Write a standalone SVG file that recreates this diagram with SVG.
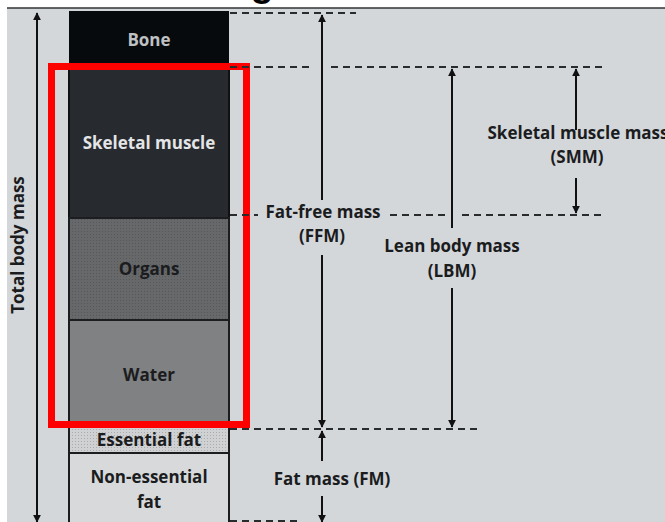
<svg xmlns="http://www.w3.org/2000/svg" width="665" height="522" viewBox="0 0 665 522">
<style>
.lbl{font-family:"Open Sans","Noto Sans",sans-serif;font-weight:bold;font-size:17px;fill:#1b1c1e;text-anchor:middle}
.dash{stroke:#2a2b2d;stroke-width:2;stroke-dasharray:7,5;fill:none}
.ar{stroke:#111;stroke-width:2;fill:none}
</style>
<defs>
<marker id="ah" viewBox="0 0 10 10" refX="9" refY="5" markerWidth="4" markerHeight="4" orient="auto-start-reverse" markerUnits="strokeWidth">
<path d="M0,0 L10,5 L0,10 z" fill="#111"/>
</marker>
<pattern id="dots" width="3" height="3" patternUnits="userSpaceOnUse">
<rect width="3" height="3" fill="#66686a"/>
<rect width="1" height="1" fill="#55575a"/>
</pattern>
<pattern id="ldots" width="3" height="3" patternUnits="userSpaceOnUse">
<rect width="3" height="3" fill="#cfd1d3"/>
<rect width="1" height="1" fill="#a9abad"/>
</pattern>
</defs>
<rect width="665" height="522" fill="#ffffff"/>
<rect x="7" y="8" width="658" height="514" fill="#d4d7da"/>
<line x1="7" y1="8" x2="665" y2="8" stroke="#333" stroke-width="1.5"/>
<text x="262" y="-4" style="font-family:'Liberation Sans',sans-serif;font-weight:bold;font-size:38px;fill:#000;text-anchor:middle">g</text>

<g id="bone"><rect x="69" y="11" width="160" height="56" fill="#070a0d"/><text class="lbl" x="149" y="46" style="fill:#bfc1c3">Bone</text></g>
<g id="skeletal-muscle"><rect x="69" y="67" width="160" height="151" fill="#272a2e" stroke="#111" stroke-width="2"/><text class="lbl" x="149" y="149" style="fill:#e4e5e7">Skeletal muscle</text></g>
<g id="organs"><rect x="69" y="218" width="160" height="102" fill="url(#dots)" stroke="#1c1d1f" stroke-width="2"/><text class="lbl" x="149" y="275">Organs</text></g>
<g id="water"><rect x="69" y="320" width="160" height="107" fill="#7f8183" stroke="#1c1d1f" stroke-width="2"/><text class="lbl" x="149" y="381">Water</text></g>
<g id="essential-fat"><rect x="69" y="427" width="160" height="26" fill="url(#ldots)" stroke="#1c1d1f" stroke-width="2"/><text class="lbl" x="149" y="446">Essential fat</text></g>
<g id="non-essential-fat"><rect x="69" y="453" width="160" height="75" fill="#d7d9db" stroke="#1c1d1f" stroke-width="2"/><text class="lbl" x="149" y="483">Non-essential</text><text class="lbl" x="149" y="508">fat</text></g>

<g id="highlight"><rect x="51.5" y="66.5" width="195" height="358" fill="none" stroke="#ff0000" stroke-width="7"/></g>

<g id="connectors">
<line class="dash" x1="230" y1="13" x2="356" y2="13"/>
<line class="dash" x1="230" y1="67" x2="312" y2="67"/>
<line class="dash" x1="331" y1="67" x2="602" y2="67"/>
<line class="dash" x1="230" y1="215" x2="258" y2="215"/>
<line class="dash" x1="390" y1="215" x2="445" y2="215"/>
<line class="dash" x1="462" y1="215" x2="602" y2="215"/>
<line class="dash" x1="230" y1="429" x2="482" y2="429"/>
<line class="dash" x1="230" y1="521" x2="300" y2="521"/>
<line class="ar" x1="37" y1="500" x2="37" y2="13" marker-end="url(#ah)"/>
<line class="ar" x1="37" y1="40" x2="37" y2="522" marker-end="url(#ah)"/>
<line class="ar" x1="322" y1="200" x2="322" y2="15" marker-end="url(#ah)"/>
<line class="ar" x1="322" y1="255" x2="322" y2="427" marker-end="url(#ah)"/>
<line class="ar" x1="452" y1="228" x2="452" y2="69" marker-end="url(#ah)"/>
<line class="ar" x1="452" y1="288" x2="452" y2="427" marker-end="url(#ah)"/>
<line class="ar" x1="576" y1="130" x2="576" y2="69" marker-end="url(#ah)"/>
<line class="ar" x1="576" y1="178" x2="576" y2="213" marker-end="url(#ah)"/>
<line class="ar" x1="322" y1="461" x2="322" y2="431" marker-end="url(#ah)"/>
<line class="ar" x1="322" y1="496" x2="322" y2="522" marker-end="url(#ah)"/>
</g>

<g id="labels">
<text class="lbl" x="18" y="245" transform="rotate(-90 18 245)" dy="6">Total body mass</text>
<text class="lbl" x="323" y="218">Fat-free mass</text>
<text class="lbl" x="322" y="242">(FFM)</text>
<text class="lbl" x="452" y="252">Lean body mass</text>
<text class="lbl" x="452" y="277">(LBM)</text>
<text class="lbl" x="578" y="139">Skeletal muscle mass</text>
<text class="lbl" x="577" y="163">(SMM)</text>
<text class="lbl" x="332" y="485">Fat mass (FM)</text>
</g>
</svg>
